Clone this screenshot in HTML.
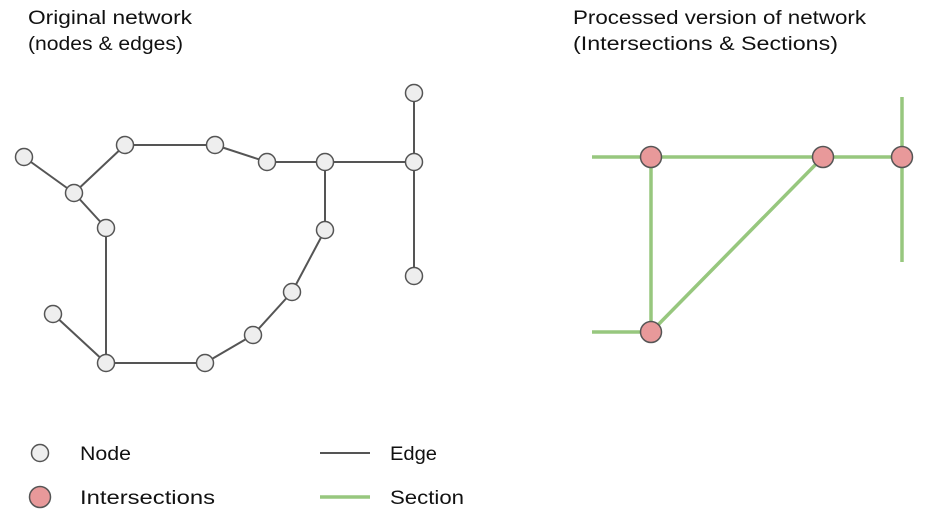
<!DOCTYPE html>
<html><head><meta charset="utf-8"><style>
html,body{margin:0;padding:0;background:#fff;}
svg{display:block;}
text{font-family:"Comic Sans MS","Liberation Sans",sans-serif;font-size:19px;fill:#111;}
</style></head><body>
<svg width="930" height="521" viewBox="0 0 930 521">
<text x="28" y="24" textLength="164" lengthAdjust="spacingAndGlyphs">Original network</text>
<text x="28" y="50" textLength="155" lengthAdjust="spacingAndGlyphs">(nodes &amp; edges)</text>
<text x="573" y="24" textLength="293" lengthAdjust="spacingAndGlyphs">Processed version of network</text>
<text x="573" y="50" textLength="265" lengthAdjust="spacingAndGlyphs">(Intersections &amp; Sections)</text>
<g stroke="#555" stroke-width="2" fill="none">
<line x1="24" y1="157" x2="74" y2="193"/>
<line x1="74" y1="193" x2="125" y2="145"/>
<line x1="125" y1="145" x2="215" y2="145"/>
<line x1="215" y1="145" x2="267" y2="162"/>
<line x1="267" y1="162" x2="414" y2="162"/>
<line x1="414" y1="93" x2="414" y2="276"/>
<line x1="325" y1="162" x2="325" y2="230"/>
<line x1="325" y1="230" x2="292" y2="292"/>
<line x1="292" y1="292" x2="253" y2="335"/>
<line x1="253" y1="335" x2="205" y2="363"/>
<line x1="205" y1="363" x2="106" y2="363"/>
<line x1="53" y1="314" x2="106" y2="363"/>
<line x1="106" y1="363" x2="106" y2="228"/>
<line x1="106" y1="228" x2="74" y2="193"/>
<line x1="320" y1="453" x2="370" y2="453"/>
</g>
<g fill="#eee" stroke="#555" stroke-width="1.5">
<circle cx="24" cy="157" r="8.5"/><circle cx="74" cy="193" r="8.5"/><circle cx="125" cy="145" r="8.5"/>
<circle cx="215" cy="145" r="8.5"/><circle cx="267" cy="162" r="8.5"/><circle cx="325" cy="162" r="8.5"/>
<circle cx="414" cy="162" r="8.5"/><circle cx="414" cy="93" r="8.5"/><circle cx="414" cy="276" r="8.5"/>
<circle cx="325" cy="230" r="8.5"/><circle cx="292" cy="292" r="8.5"/><circle cx="253" cy="335" r="8.5"/>
<circle cx="205" cy="363" r="8.5"/><circle cx="106" cy="363" r="8.5"/><circle cx="53" cy="314" r="8.5"/>
<circle cx="106" cy="228" r="8.5"/><circle cx="40" cy="453" r="8.5"/>
</g>
<g stroke="#97c77e" stroke-width="3.5" fill="none">
<line x1="592" y1="157" x2="902" y2="157"/>
<line x1="902" y1="97" x2="902" y2="262"/>
<line x1="651" y1="157" x2="651" y2="332"/>
<line x1="592" y1="332" x2="651" y2="332"/>
<line x1="651" y1="332" x2="823" y2="157"/>
<line x1="320" y1="497" x2="370" y2="497"/>
</g>
<g fill="#e8999a" stroke="#555" stroke-width="1.5">
<circle cx="651" cy="157" r="10.5"/><circle cx="823" cy="157" r="10.5"/><circle cx="902" cy="157" r="10.5"/>
<circle cx="651" cy="332" r="10.5"/><circle cx="40" cy="497" r="10.5"/>
</g>
<text x="80" y="460" textLength="51" lengthAdjust="spacingAndGlyphs">Node</text>
<text x="80" y="504" textLength="135" lengthAdjust="spacingAndGlyphs">Intersections</text>
<text x="390" y="460" textLength="47" lengthAdjust="spacingAndGlyphs">Edge</text>
<text x="390" y="504" textLength="74" lengthAdjust="spacingAndGlyphs">Section</text>
</svg>
</body></html>
